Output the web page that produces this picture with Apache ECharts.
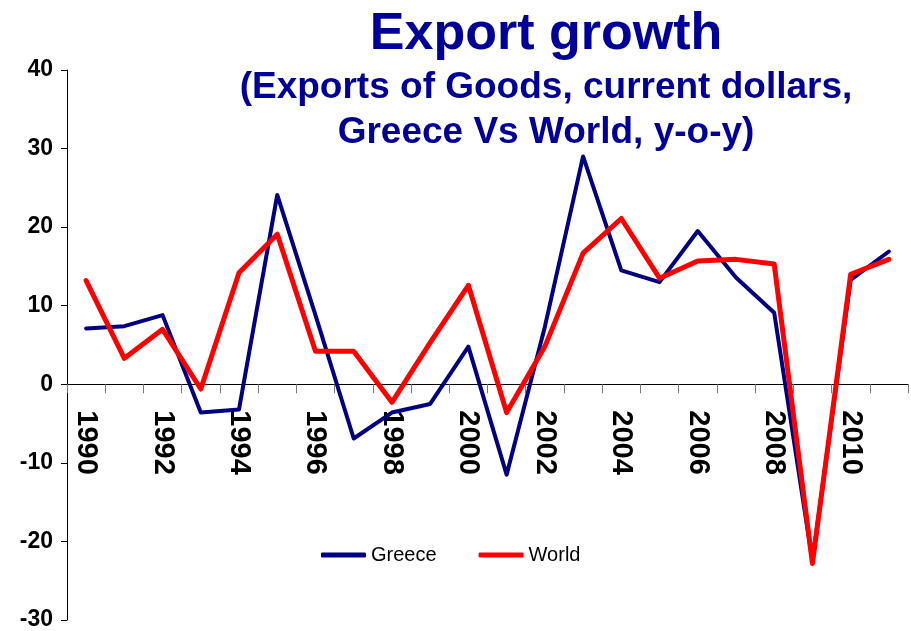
<!DOCTYPE html>
<html>
<head>
<meta charset="utf-8">
<title>Export growth</title>
<script src="https://cdn.jsdelivr.net/npm/echarts@6/dist/echarts.min.js"></script>
<style>
  html, body { margin: 0; padding: 0; background: #ffffff; }
  #chart { width: 911px; height: 631px; }
</style>
</head>
<body>
<div id="chart"></div>
<script>
// Years on the category axis
const years = ['1990','1991','1992','1993','1994','1995','1996','1997','1998','1999','2000',
               '2001','2002','2003','2004','2005','2006','2007','2008','2009','2010','2011'];

// Exports of goods, y-o-y growth (%), current dollars
const greece = [7.1, 7.4, 8.8, -3.6, -3.2, 24.1, 8.8, -6.9, -3.6, -2.5, 4.8,
                -11.5, 7.3, 29.0, 14.5, 13.0, 19.5, 13.6, 9.1, -22.5, 13.3, 16.9];
const world  = [13.2, 3.3, 7.0, -0.6, 14.2, 19.1, 4.2, 4.2, -2.3, 5.3, 12.6,
                -3.6, 4.8, 16.7, 21.1, 13.5, 15.7, 15.9, 15.3, -22.8, 14.0, 15.9];

const seriesNames = ['Greece', 'World'];
const titleText = 'Export growth';
const subtitleText = '(Exports of Goods, current dollars,\nGreece Vs World, y-o-y)';

const chart = echarts.init(document.getElementById('chart'), null, { renderer: 'canvas' });

const navy = '#000080';
const red = '#ff0000';
const titleBlue = '#000099';
const sans = '"Liberation Sans", Arial, sans-serif';
const GRID_TOP = 70, GRID_BOTTOM = 11;

const option = {
  animation: false,
  backgroundColor: '#ffffff',
  title: {
    text: titleText,
    subtext: subtitleText,
    left: 541,
    top: 4,
    textAlign: 'center',
    textVerticalAlign: 'top',
    itemGap: 4,
    textStyle: { fontFamily: sans, fontSize: 52, fontWeight: 'bold', color: titleBlue },
    subtextStyle: { fontFamily: sans, fontSize: 37, fontWeight: 'bold', color: titleBlue, lineHeight: 45 }
  },
  legend: {
    data: seriesNames,
    left: 316,
    top: 540,
    icon: 'roundRect',
    itemWidth: 45,
    itemHeight: 5,
    itemGap: 42,
    textStyle: { fontFamily: sans, fontSize: 20, color: '#000000' }
  },
  grid: {
    left: 67,
    right: 3,
    top: GRID_TOP,
    bottom: GRID_BOTTOM,
    containLabel: false,
    outerBoundsMode: 'none'
  },
  xAxis: [
    {
      // axis line and ticks crossing at zero
      type: 'category',
      data: years,
      boundaryGap: true,
      axisLine: { onZero: true, lineStyle: { color: '#000000', width: 1 } },
      axisTick: { show: true, interval: 0, inside: false, length: 9, lineStyle: { color: '#777777', width: 1 } },
      axisLabel: { show: false },
      splitLine: { show: false }
    },
    {
      // year labels, shifted up so they hang below the zero line
      type: 'category',
      data: years,
      boundaryGap: true,
      position: 'bottom',
      offset: 0,
      axisLine: { show: false, onZero: false },
      axisTick: { show: false },
      axisLabel: {
        show: true,
        interval: 1,
        rotate: -90,
        margin: 26,
        padding: [7, 0, 0, 0],
        fontFamily: sans,
        fontSize: 29,
        fontWeight: 'bold',
        color: '#000000'
      },
      splitLine: { show: false }
    }
  ],
  yAxis: {
    type: 'value',
    min: -30,
    max: 40,
    interval: 10,
    axisLine: { show: true, onZero: false, lineStyle: { color: '#000000', width: 1 } },
    axisTick: { show: true, inside: false, length: 6, lineStyle: { color: '#000000', width: 1 } },
    axisLabel: {
      margin: 14,
      fontFamily: sans,
      fontSize: 23,
      fontWeight: 'bold',
      color: '#000000'
    },
    splitLine: { show: false }
  },
  series: [
    {
      name: seriesNames[0],
      type: 'line',
      data: greece,
      symbol: 'none',
      color: navy,
      lineStyle: { color: navy, width: 4, join: 'round', cap: 'round' },
      z: 2
    },
    {
      name: seriesNames[1],
      type: 'line',
      data: world,
      symbol: 'none',
      color: red,
      lineStyle: { color: red, width: 5, join: 'round', cap: 'round' },
      z: 3
    }
  ]
};

chart.setOption(option);

// Move the label axis from the grid's bottom edge up to the zero line of the value axis
const zeroY = chart.convertToPixel({ yAxisIndex: 0 }, 0);
const bottomY = chart.getHeight() - GRID_BOTTOM;
chart.setOption({ xAxis: [{}, { offset: zeroY - bottomY }] });
</script>
</body>
</html>
